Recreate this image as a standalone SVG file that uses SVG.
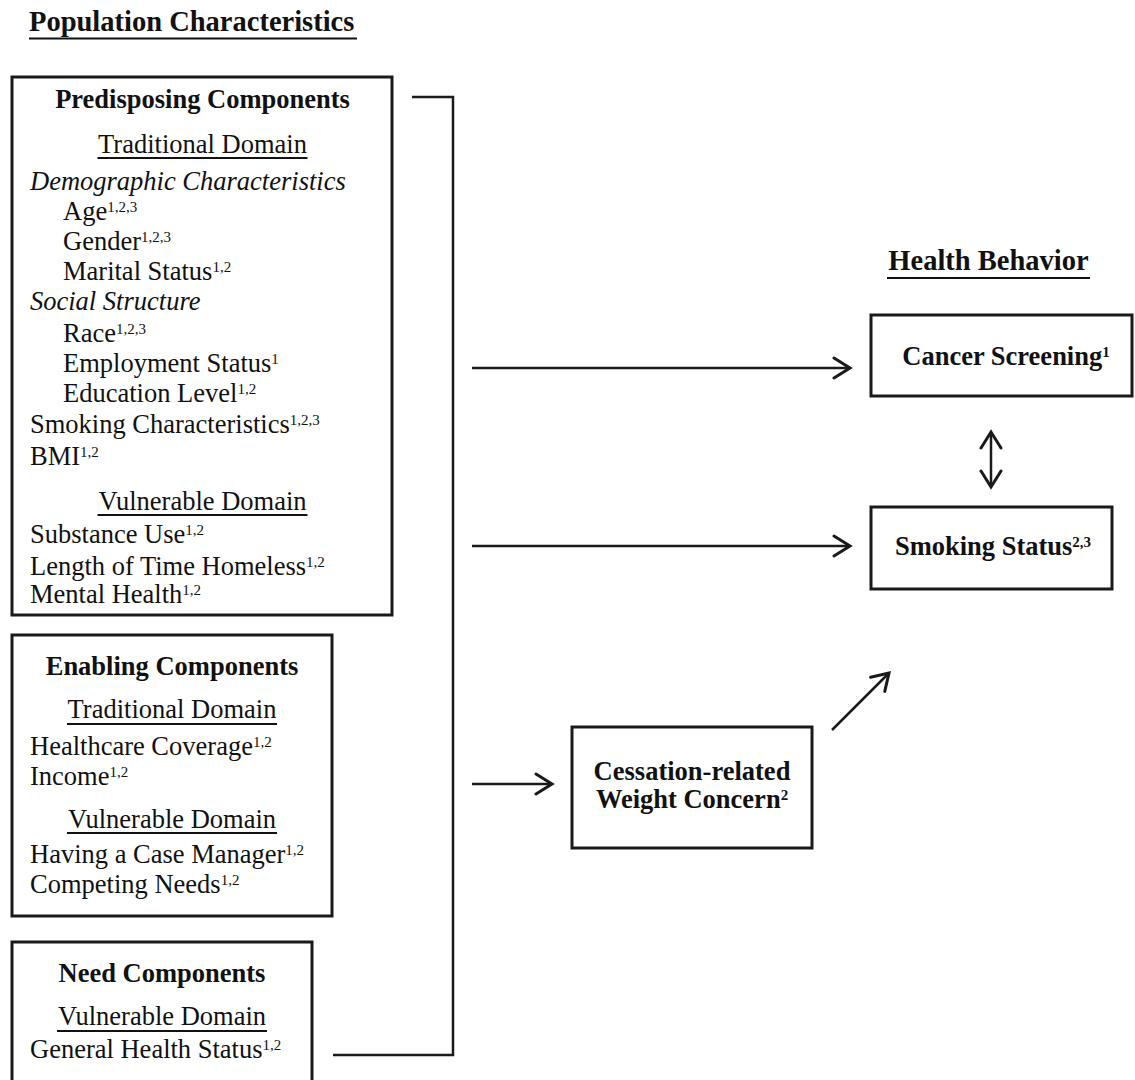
<svg xmlns="http://www.w3.org/2000/svg" width="1135" height="1080" viewBox="0 0 1135 1080">
<style>
text{font-family:"Liberation Serif","Times New Roman",serif;fill:#111;font-size:26.5px}
.b{font-weight:bold}
.t{font-weight:bold;font-size:28.5px}
.i{font-style:italic}
.m{text-anchor:middle}
.s{font-size:15px}
.box{fill:#fff;stroke:#1a1a1a;stroke-width:3}
.ul{stroke:#111;stroke-width:1.8}
.tul{stroke:#111;stroke-width:2.2}
.con{fill:none;stroke:#1a1a1a;stroke-width:2.5}
</style>
<defs>
<marker id="arr" markerUnits="userSpaceOnUse" markerWidth="24" markerHeight="28" refX="18" refY="12" orient="auto-start-reverse" viewBox="0 0 24 28">
<path d="M2,2 L18,12 L2,22" fill="none" stroke="#1a1a1a" stroke-width="3" stroke-linecap="round" stroke-linejoin="miter"/>
</marker>
</defs>
<rect width="1135" height="1080" fill="#fff"/>

<g id="title-population">
<text class="t" x="29" y="31">Population Characteristics</text>
<line class="tul" x1="29" y1="38.5" x2="357" y2="38.5"/>
</g>

<g id="title-health">
<text class="t m" x="988.5" y="270">Health Behavior</text>
<line class="tul" x1="887" y1="278" x2="1090" y2="278"/>
</g>

<g id="predisposing">
<rect class="box" x="12" y="77" width="380" height="538"/>
<text class="b m" x="202.5" y="108">Predisposing Components</text>
<text class="m" x="202.5" y="153">Traditional Domain</text>
<line class="ul" x1="97.5" y1="158" x2="307.5" y2="158"/>
<text class="i" x="30" y="190">Demographic Characteristics</text>
<text x="63" y="220">Age<tspan class="s" dy="-8">1,2,3</tspan></text>
<text x="63" y="250">Gender<tspan class="s" dy="-8">1,2,3</tspan></text>
<text x="63" y="280">Marital Status<tspan class="s" dy="-8">1,2</tspan></text>
<text class="i" x="30" y="310">Social Structure</text>
<text x="63" y="342">Race<tspan class="s" dy="-8">1,2,3</tspan></text>
<text x="63" y="372">Employment Status<tspan class="s" dy="-8">1</tspan></text>
<text x="63" y="402">Education Level<tspan class="s" dy="-8">1,2</tspan></text>
<text x="30" y="433">Smoking Characteristics<tspan class="s" dy="-8">1,2,3</tspan></text>
<text x="30" y="465">BMI<tspan class="s" dy="-8">1,2</tspan></text>
<text class="m" x="202.5" y="510">Vulnerable Domain</text>
<line class="ul" x1="97.5" y1="515" x2="307.5" y2="515"/>
<text x="30" y="543">Substance Use<tspan class="s" dy="-8">1,2</tspan></text>
<text x="30" y="575">Length of Time Homeless<tspan class="s" dy="-8">1,2</tspan></text>
<text x="30" y="603">Mental Health<tspan class="s" dy="-8">1,2</tspan></text>
</g>

<g id="enabling">
<rect class="box" x="12" y="635" width="320" height="281"/>
<text class="b m" x="172" y="675">Enabling Components</text>
<text class="m" x="172" y="718">Traditional Domain</text>
<line class="ul" x1="67" y1="724" x2="277" y2="724"/>
<text x="30" y="755">Healthcare Coverage<tspan class="s" dy="-8">1,2</tspan></text>
<text x="30" y="785">Income<tspan class="s" dy="-8">1,2</tspan></text>
<text class="m" x="172" y="828">Vulnerable Domain</text>
<line class="ul" x1="67" y1="833" x2="277" y2="833"/>
<text x="30" y="863">Having a Case Manager<tspan class="s" dy="-8">1,2</tspan></text>
<text x="30" y="893">Competing Needs<tspan class="s" dy="-8">1,2</tspan></text>
</g>

<g id="need">
<rect class="box" x="12" y="942" width="300" height="145"/>
<text class="b m" x="162" y="982">Need Components</text>
<text class="m" x="162" y="1025">Vulnerable Domain</text>
<line class="ul" x1="57" y1="1031" x2="267" y2="1031"/>
<text x="30" y="1058">General Health Status<tspan class="s" dy="-8">1,2</tspan></text>
</g>

<g id="cancer-screening">
<rect class="box" x="871" y="315" width="261" height="81"/>
<text class="b m" x="1006" y="365">Cancer Screening<tspan class="s" dy="-8">1</tspan></text>
</g>

<g id="smoking-status">
<rect class="box" x="871" y="507" width="241" height="82"/>
<text class="b m" x="993" y="555">Smoking Status<tspan class="s" dy="-8">2,3</tspan></text>
</g>

<g id="weight-concern">
<rect class="box" x="572" y="727" width="240" height="121"/>
<text class="b m" x="692" y="780">Cessation-related</text>
<text class="b m" x="692" y="808">Weight Concern<tspan class="s" dy="-8">2</tspan></text>
</g>

<g id="connectors">
<path class="con" d="M412,97 H453 V1055 H333" stroke-width="4"/>
<path class="con" d="M472,368 H850" marker-end="url(#arr)"/>
<path class="con" d="M472,546 H850" marker-end="url(#arr)"/>
<path class="con" d="M472,784 H552" marker-end="url(#arr)"/>
<path class="con" d="M832,730 L889,673" marker-end="url(#arr)"/>
<path class="con" d="M991,432 V487" stroke-width="3" marker-start="url(#arr)" marker-end="url(#arr)"/>
</g>
</svg>
